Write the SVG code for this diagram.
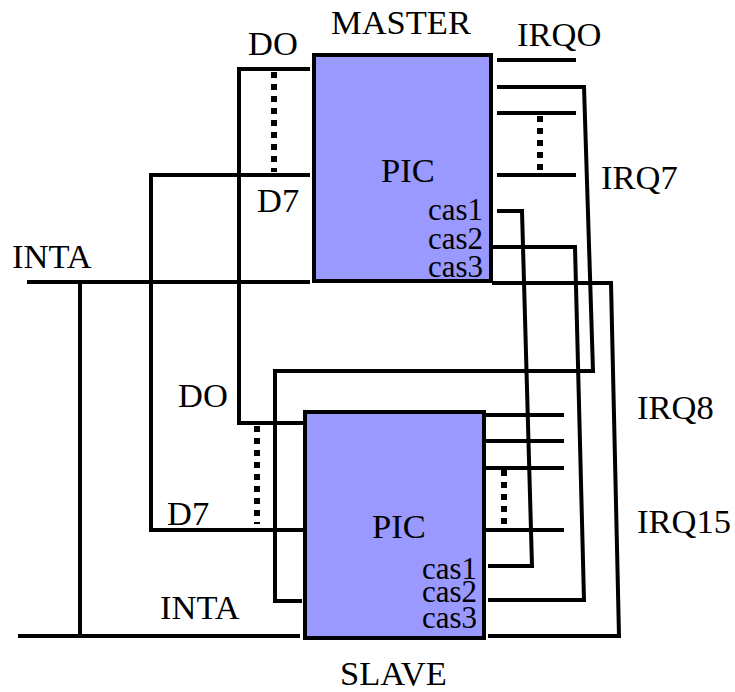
<svg xmlns="http://www.w3.org/2000/svg" width="735" height="692" viewBox="0 0 735 692">
<style>
.t{font-family:'Liberation Serif','Times New Roman',serif;font-size:34.5px;fill:#000}
.c{font-size:31px}
.box{fill:#9999FF;stroke:#000;stroke-width:4}
.w{fill:none;stroke:#000;stroke-width:4;stroke-linejoin:miter}
.dot{fill:none;stroke:#000;stroke-width:6;stroke-dasharray:6 6}
.e{text-anchor:end}
</style>
<rect width="735" height="692" fill="#fff"/>
<g id="connectors">
<path class="w" d="M310 69H239V423H308"/>
<path class="w" d="M310 175H151V530H308"/>
<path class="w" d="M27 282H310"/>
<path class="w" d="M80 282V636"/>
<path class="w" d="M18 636H300"/>
<path class="w" d="M497 87H584L593 371H275V601H302"/>
<path class="w" d="M497 211H522L532 566H488"/>
<path class="w" d="M488 247H575L584 600H488"/>
<path class="w" d="M492 283H611L619 636H488"/>
<path class="w" d="M497 60H576M497 113H576M497 175H576"/>
<path class="w" d="M484 415H564M484 441H564M484 468H564M484 530H564"/>
<path class="dot" d="M274 72V172"/>
<path class="dot" d="M540 116V175"/>
<path class="dot" d="M257 426V524"/>
<path class="dot" d="M504 470V530"/>
</g>
<g id="master">
<rect class="box" x="314" y="55" width="177" height="226"/>
<text class="t" x="331" y="34">MASTER</text>
<text class="t" x="381" y="182">PIC</text>
<text class="t c e" x="483" y="220">cas1</text>
<text class="t c e" x="483" y="249">cas2</text>
<text class="t c e" x="483" y="277">cas3</text>
</g>
<g id="slave">
<rect class="box" x="305" y="412" width="179" height="226"/>
<text class="t" x="340" y="685">SLAVE</text>
<text class="t" x="372" y="538">PIC</text>
<text class="t c e" x="477" y="579">cas1</text>
<text class="t c e" x="477" y="602">cas2</text>
<text class="t c e" x="477" y="628">cas3</text>
</g>
<g id="labels">
<text class="t" x="248" y="55">DO</text>
<text class="t" x="257" y="212">D7</text>
<text class="t" x="517" y="46">IRQO</text>
<text class="t" x="601" y="189">IRQ7</text>
<text class="t" x="12" y="268">INTA</text>
<text class="t" x="178" y="407">DO</text>
<text class="t" x="167" y="525">D7</text>
<text class="t" x="160" y="619">INTA</text>
<text class="t" x="637" y="419">IRQ8</text>
<text class="t" x="637" y="533">IRQ15</text>
</g>
</svg>
